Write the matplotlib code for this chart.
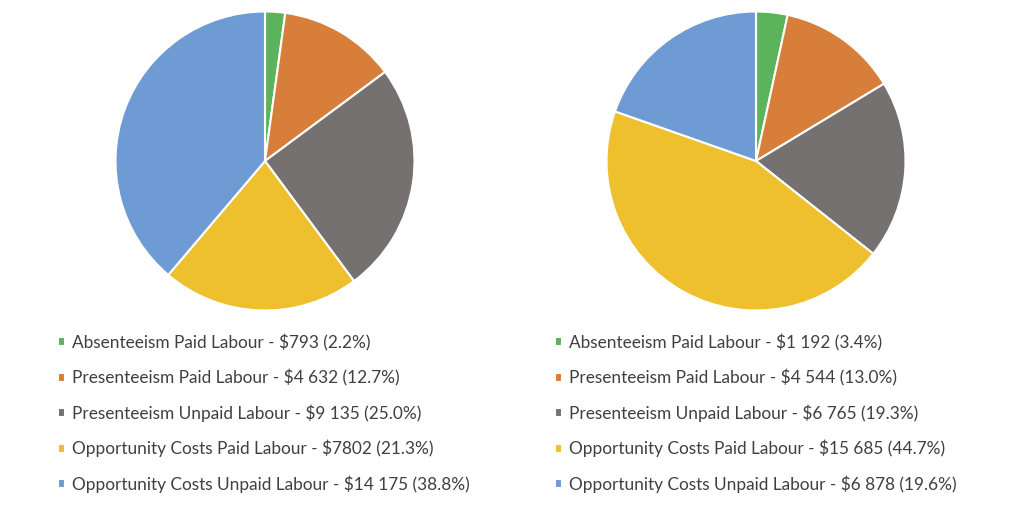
import matplotlib
matplotlib.use("Agg")
from matplotlib import pyplot as plt

categories = ["Absenteeism Paid Labour", "Presenteeism Paid Labour",
              "Presenteeism Unpaid Labour", "Opportunity Costs Paid Labour",
              "Opportunity Costs Unpaid Labour"]
colors = ["#5BB35B", "#D77E3A", "#767171", "#EEC02E", "#6F9BD4"]

# left chart
left_values = [793, 4632, 9135, 7802, 14175]
left_amounts = ["$793", "$4 632", "$9 135", "$7802", "$14 175"]
left_pcts = [2.2, 12.7, 25.0, 21.3, 38.8]

# right chart
right_values = [1192, 4544, 6765, 15685, 6878]
right_amounts = ["$1 192", "$4 544", "$6 765", "$15 685", "$6 878"]
right_pcts = [3.4, 13.0, 19.3, 44.7, 19.6]

plt.rcParams['font.family'] = ['Lato', 'DejaVu Sans']

fig = plt.figure(figsize=(10.24, 5.32), dpi=100)
W, H = 1024, 532


def draw(cx, values, amounts, pcts, legx):
    r = 151
    ax = fig.add_axes([(cx - r) / W, (H - 161 - r) / H, 2 * r / W, 2 * r / H])
    wedges, _ = ax.pie(values, colors=colors, startangle=90, counterclock=False,
                       wedgeprops=dict(edgecolor="white", linewidth=1.5))
    ax.set_xlim(-1.01, 1.01)
    ax.set_ylim(-1.01, 1.01)
    ax.set_aspect("equal")
    labels = ["%s - %s (%.1f%%)" % (c, a, p) for c, a, p in zip(categories, amounts, pcts)]
    fig.legend(wedges, labels, loc="upper left", bbox_to_anchor=(legx / W, 1 - 334 / H),
               frameon=False, fontsize=12.4, labelcolor="#404040",
               handlelength=0.42, handleheight=0.42, handletextpad=0.38,
               labelspacing=1.05, borderpad=0, borderaxespad=0)


draw(265, left_values, left_amounts, left_pcts, 58)
draw(756, right_values, right_amounts, right_pcts, 555)

fig.savefig("out.png", dpi=100)
